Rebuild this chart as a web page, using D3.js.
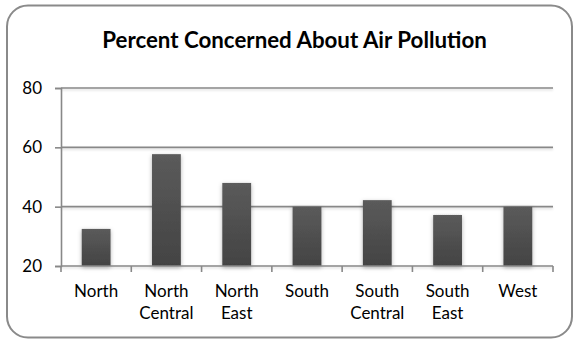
<!DOCTYPE html>
<html>
<head>
<meta charset="utf-8">
<script src="https://cdn.jsdelivr.net/npm/d3@7"></script>
<style>
  html, body { margin: 0; padding: 0; background: #fff; }
  svg { display: block; }
  text { font-family: Lato, "Noto Sans", sans-serif; fill: #000; }
</style>
</head>
<body>
<svg id="chart" width="579" height="341"></svg>
<script>
// Regions surveyed and the share of respondents concerned about air pollution
const regions = ["North", "North Central", "North East", "South", "South Central", "South East", "West"];
const concerned = [32.5, 57.7, 48, 40, 42.2, 37.2, 40];
const yTicks = [20, 40, 60, 80];
const chartTitle = "Percent Concerned About Air Pollution";

const svg = d3.select("#chart");
const plot = { left: 61, right: 553, top: 88, bottom: 266 };

const defs = svg.append("defs");
const grad = defs.append("linearGradient")
  .attr("id", "barFill").attr("x1", 0).attr("y1", 0).attr("x2", 0).attr("y2", 1);
grad.append("stop").attr("offset", "0%").attr("stop-color", "#5b5b5b");
grad.append("stop").attr("offset", "100%").attr("stop-color", "#434343");

const barShadow = defs.append("filter").attr("id", "barShadow")
  .attr("x", "-40%").attr("y", "-20%").attr("width", "180%").attr("height", "140%");
barShadow.append("feDropShadow")
  .attr("dx", 0).attr("dy", 1.5).attr("stdDeviation", 2.2)
  .attr("flood-color", "#000").attr("flood-opacity", 0.3);

// Horizontal lines have a zero-height box, so the shadow region is in user space
const lineShadow = defs.append("filter").attr("id", "lineShadow")
  .attr("filterUnits", "userSpaceOnUse")
  .attr("x", 0).attr("y", 0).attr("width", 579).attr("height", 341);
lineShadow.append("feDropShadow")
  .attr("dx", 0).attr("dy", 1.5).attr("stdDeviation", 0.8)
  .attr("flood-color", "#000").attr("flood-opacity", 0.15);

// Chart frame
svg.append("rect")
  .attr("x", 7).attr("y", 5.5).attr("width", 565).attr("height", 332)
  .attr("rx", 21).attr("ry", 21)
  .attr("fill", "#fff").attr("stroke", "#8a8a8a").attr("stroke-width", 2);

svg.append("text")
  .attr("x", 294.5).attr("y", 47.5)
  .attr("text-anchor", "middle")
  .attr("font-size", 22.3).attr("font-weight", "bold")
  .text(chartTitle);

const x = d3.scaleBand()
  .domain(regions)
  .range([plot.left, plot.right])
  .paddingInner(0.59).paddingOuter(0.295);

const y = d3.scaleLinear()
  .domain([20, 80])
  .range([plot.bottom, plot.top]);

// Horizontal gridlines
svg.append("g")
  .selectAll("line")
  .data(yTicks.filter(d => d > 20))
  .join("line")
  .attr("x1", plot.left).attr("x2", plot.right)
  .attr("y1", d => y(d)).attr("y2", d => y(d))
  .attr("stroke", "#888").attr("stroke-width", 1.6)
  .attr("filter", "url(#lineShadow)");

// Bars
svg.append("g")
  .selectAll("rect")
  .data(regions.map((r, i) => ({ r, v: concerned[i] })))
  .join("rect")
  .attr("x", d => x(d.r))
  .attr("width", x.bandwidth())
  .attr("y", d => y(d.v))
  .attr("height", d => y(20) - y(d.v))
  .attr("fill", "url(#barFill)")
  .attr("filter", "url(#barShadow)");

// Y axis
const yAxis = svg.append("g")
  .attr("transform", `translate(${plot.left},0)`)
  .call(d3.axisLeft(y).tickValues(yTicks).tickSize(6).tickPadding(13).tickFormat(d3.format("d")));
yAxis.select(".domain").attr("stroke", "#888").attr("stroke-width", 1.6);
yAxis.selectAll(".tick line").attr("stroke", "#888").attr("stroke-width", 1.6);
yAxis.selectAll(".tick text")
  .attr("font-size", 17).attr("fill", "#000")
  .style("font-family", "Lato, 'Noto Sans', sans-serif");

// X axis baseline and category boundary ticks
const xAxis = svg.append("g");
xAxis.append("line")
  .attr("x1", plot.left).attr("x2", plot.right)
  .attr("y1", y(20)).attr("y2", y(20))
  .attr("stroke", "#888").attr("stroke-width", 1.6)
  .attr("filter", "url(#lineShadow)");
const boundaries = regions.map(r => x(r) - x.step() * x.paddingInner() / 2)
  .concat([plot.right]);
xAxis.selectAll("line.tick")
  .data(boundaries)
  .join("line")
  .attr("class", "tick")
  .attr("x1", d => d).attr("x2", d => d)
  .attr("y1", y(20)).attr("y2", y(20) + 6)
  .attr("stroke", "#888").attr("stroke-width", 1.6);

// Category labels, wrapped onto two lines
const labels = xAxis.selectAll("text.cat")
  .data(regions)
  .join("text")
  .attr("class", "cat")
  .attr("text-anchor", "middle")
  .attr("font-size", 17);
labels.each(function (d) {
  const words = d.split(" ");
  const t = d3.select(this);
  words.forEach((w, i) => {
    t.append("tspan")
      .attr("x", x(d) + x.bandwidth() / 2)
      .attr("y", 296.5 + i * 22.8)
      .text(w);
  });
});
</script>
</body>
</html>
